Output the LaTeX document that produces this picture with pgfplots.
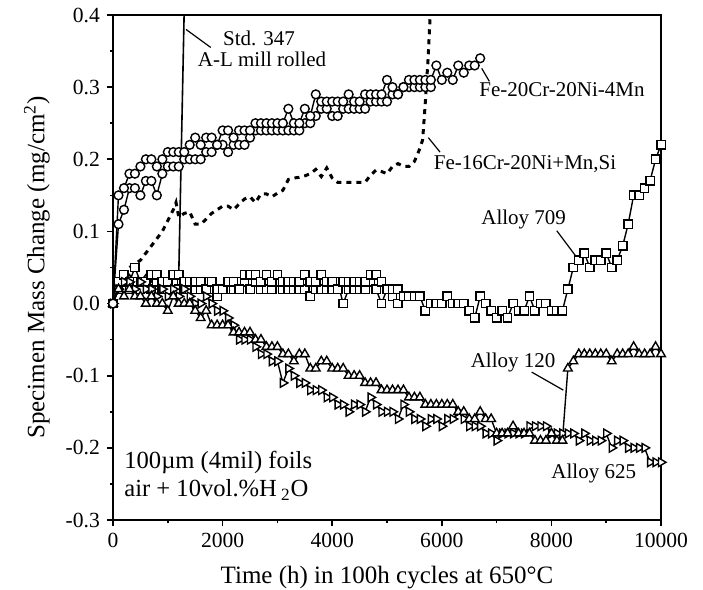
\documentclass[border=0pt]{standalone}
\usepackage{pgfplots}
\pgfplotsset{compat=1.18}
\usepackage{fontspec}
\setmainfont{Liberation Serif}
\begin{document}
\begin{tikzpicture}
\begin{axis}[
  width=274pt, height=252.5pt, scale only axis,
  xmin=0, xmax=10000, ymin=-0.3, ymax=0.4,
  xtick={0,2000,4000,6000,8000,10000}, minor x tick num=1,
  ytick={-0.3,-0.2,-0.1,0,0.1,0.2,0.3,0.4}, minor y tick num=1,
  tick pos=left, tick align=outside,
  major tick length=3pt, minor tick length=1.6pt,
  axis line style={line width=1pt},
  every tick/.append style={black, line width=0.8pt},
  scaled x ticks=false, scaled y ticks=false,
  /pgf/number format/assume math mode=true,
  xticklabel style={/pgf/number format/1000 sep={}},
  yticklabel style={/pgf/number format/.cd, fixed, fixed zerofill, precision=1},
  ticklabel style={font=\fontsize{10.8}{12.5}\selectfont},
  xlabel={Time (h) in 100h cycles at 650°C},
  ylabel={Specimen Mass Change (mg/cm\textsuperscript{2})},
  xlabel style={font=\fontsize{12.5}{15}\selectfont, at={(axis description cs:0.5,-0.113)}, anchor=center},
  ylabel style={font=\fontsize{12.5}{15}\selectfont, at={(axis description cs:-0.139,0.5)}, anchor=center, rotate=0},
  every axis plot/.append style={black, line width=0.7pt},
]
\coordinate (bbA) at (rel axis cs:-0.2062,-0.1386);
\coordinate (bbB) at (rel axis cs:1.0766,1.0297);

% Fe-16Cr-20Ni+Mn,Si (dotted thick)
\addplot[no marks, line width=1.5pt, dash pattern=on 2.5pt off 2.5pt] coordinates {
(0,0)(100,0.02)(200,0.04)(300,0.05)(400,0.055)(500,0.06)(600,0.07)(700,0.08)(800,0.09)(900,0.10)(1000,0.115)(1100,0.13)(1150,0.14)(1200,0.12)(1300,0.125)(1400,0.127)(1500,0.11)(1600,0.11)(1700,0.117)(1800,0.125)(1900,0.13)(2000,0.135)(2100,0.135)(2200,0.13)(2300,0.138)(2400,0.145)(2500,0.148)(2600,0.14)(2700,0.152)(2800,0.152)(2900,0.148)(3000,0.153)(3100,0.157)(3200,0.172)(3300,0.174)(3400,0.175)(3500,0.177)(3600,0.18)(3700,0.186)(3800,0.176)(3900,0.188)(4000,0.174)(4100,0.168)(4200,0.168)(4300,0.168)(4400,0.168)(4500,0.168)(4600,0.168)(4700,0.178)(4800,0.185)(4900,0.183)(5000,0.18)(5100,0.19)(5200,0.194)(5300,0.19)(5400,0.19)(5500,0.197)(5600,0.215)(5650,0.227)(5700,0.28)(5750,0.34)(5800,0.42)
};

% Std. 347
\addplot[no marks, line width=0.8pt] coordinates {
(0,0)(100,0.03)(200,0.03)(300,0.04)(400,0.03)(500,0.03)(600,0.04)(700,0.03)(800,0.04)(900,0.03)(1000,0.03)(1100,0.04)(1200,0.04)(1300,0.41)
};

% Alloy 709 (two specimens)
\addplot[mark=square*, mark size=2.1pt, mark options={fill=white, solid, line width=0.7pt}] coordinates {
(0,0)(100,0.02)(200,0.03)(300,0.02)(400,0.03)(500,0.02)(600,0.03)(700,0.02)(800,0.03)(900,0.02)(1000,0.02)(1100,0.03)(1200,0.02)(1300,0.02)(1400,0.02)(1500,0.02)(1600,0.02)(1700,0.03)(1800,0.02)(1900,0.01)(2000,0.02)(2100,0.02)(2200,0.02)(2300,0.03)(2400,0.03)(2500,0.02)(2600,0.03)(2700,0.02)(2800,0.02)(2900,0.02)(3000,0.03)(3100,0.02)(3200,0.02)(3300,0.02)(3400,0.02)(3500,0.02)(3600,0.01)(3700,0.02)(3800,0.02)(3900,0.02)(4000,0.02)(4100,0.03)(4200,0.00)(4300,0.02)(4400,0.02)(4500,0.02)(4600,0.02)(4700,0.03)(4800,0.02)(4900,0.00)(5000,0.02)(5100,0.01)(5200,0.00)(5300,0.01)(5400,0.01)(5500,0.01)
};
\addplot[mark=square*, mark size=2.1pt, mark options={fill=white, solid, line width=0.7pt}] coordinates {
(0,0)(100,0.03)(200,0.04)(300,0.03)(400,0.05)(500,0.03)(600,0.03)(700,0.04)(800,0.04)(900,0.03)(1000,0.03)(1100,0.04)(1200,0.04)(1300,0.03)(1400,0.03)(1500,0.03)(1600,0.03)(1700,0.02)(1800,0.03)(1900,0.02)(2000,0.02)(2100,0.03)(2200,0.03)(2300,0.02)(2400,0.04)(2500,0.04)(2600,0.04)(2700,0.03)(2800,0.04)(2900,0.03)(3000,0.04)(3100,0.03)(3200,0.03)(3300,0.03)(3400,0.03)(3500,0.04)(3600,0.03)(3700,0.03)(3800,0.04)(3900,0.03)(4000,0.03)(4100,0.02)(4200,0.03)(4300,0.03)(4400,0.03)(4500,0.03)(4600,0.03)(4700,0.04)(4800,0.04)(4900,0.03)(5000,0.02)(5100,0.02)(5200,0.02)(5300,0.01)(5400,0.01)(5500,0.01)(5600,0.01)(5700,-0.01)(5800,0.00)(5900,0.00)(6000,0.00)(6100,0.01)(6200,0.00)(6300,0.00)(6400,0.00)(6500,-0.01)(6600,-0.02)(6700,0.01)(6800,0.00)(6900,-0.01)(7000,-0.02)(7100,-0.01)(7200,-0.02)(7300,0.00)(7400,-0.01)(7500,-0.01)(7600,0.01)(7700,-0.01)(7800,0.00)(7900,0.00)(8000,-0.01)(8100,-0.01)(8200,-0.01)(8300,0.02)(8400,0.05)(8500,0.06)(8600,0.07)(8700,0.05)(8800,0.06)(8900,0.06)(9000,0.07)(9100,0.05)(9200,0.06)(9300,0.08)(9400,0.11)(9500,0.15)(9600,0.15)(9700,0.16)(9800,0.17)(9900,0.20)(10000,0.22)
};

% Alloy 625 (right triangles)
\addplot[mark=triangle*, mark size=2.5pt, mark options={fill=white, solid, rotate=-90, line width=0.7pt}] coordinates {
(0,0)(100,0.02)(200,0.03)(300,0.03)(400,0.02)(500,0.03)(600,0.02)(700,0.02)(800,0.01)(900,0.02)(1000,0.01)(1100,0.02)(1200,0.01)(1300,0.02)(1400,0.01)(1500,0.00)(1600,0.00)(1700,0.01)(1800,0.00)(1900,-0.01)(2000,-0.01)(2100,-0.02)(2200,-0.03)(2300,-0.05)(2400,-0.05)(2500,-0.05)(2600,-0.06)(2700,-0.07)(2800,-0.07)(2900,-0.08)(3000,-0.08)(3100,-0.11)(3200,-0.09)(3300,-0.10)(3400,-0.11)(3500,-0.11)(3600,-0.12)(3700,-0.12)(3800,-0.12)(3900,-0.13)(4000,-0.13)(4100,-0.14)(4200,-0.14)(4300,-0.15)(4400,-0.14)(4500,-0.14)(4600,-0.15)(4700,-0.13)(4800,-0.14)(4900,-0.15)(5000,-0.15)(5100,-0.15)(5200,-0.16)(5300,-0.14)(5400,-0.15)(5500,-0.16)(5600,-0.16)(5700,-0.17)(5800,-0.16)(5900,-0.16)(6000,-0.17)(6100,-0.16)(6200,-0.16)(6300,-0.15)(6400,-0.16)(6500,-0.17)(6600,-0.17)(6700,-0.17)(6800,-0.18)(6900,-0.18)(7000,-0.19)(7100,-0.18)(7200,-0.18)(7300,-0.18)(7400,-0.18)(7500,-0.18)(7600,-0.17)(7700,-0.17)(7800,-0.17)(7900,-0.17)(8000,-0.18)(8100,-0.18)(8200,-0.18)(8300,-0.18)(8400,-0.18)(8500,-0.19)(8600,-0.18)(8700,-0.19)(8800,-0.19)(8900,-0.19)(9000,-0.18)(9100,-0.20)(9200,-0.19)(9300,-0.19)(9400,-0.20)(9500,-0.20)(9600,-0.20)(9700,-0.20)(9800,-0.22)(9900,-0.22)(10000,-0.22)
};

% Alloy 120 (up triangles)
\addplot[mark=triangle*, mark size=2.5pt, mark options={fill=white, solid, line width=0.7pt}] coordinates {
(0,0)(100,0.02)(200,0.01)(300,0.02)(400,0.01)(500,0.01)(600,0.00)(700,0.01)(800,0.00)(900,0.00)(1000,-0.01)(1100,0.01)(1200,0.00)(1300,0.00)(1400,0.00)(1500,-0.01)(1600,-0.02)(1700,-0.01)(1800,-0.03)(1900,-0.03)(2000,-0.03)(2100,-0.03)(2200,-0.04)(2300,-0.04)(2400,-0.04)(2500,-0.04)(2600,-0.05)(2700,-0.05)(2800,-0.06)(2900,-0.06)(3000,-0.06)(3100,-0.07)(3200,-0.07)(3300,-0.08)(3400,-0.07)(3500,-0.07)(3600,-0.09)(3700,-0.09)(3800,-0.08)(3900,-0.08)(4000,-0.09)(4100,-0.09)(4200,-0.09)(4300,-0.10)(4400,-0.10)(4500,-0.10)(4600,-0.11)(4700,-0.11)(4800,-0.11)(4900,-0.12)(5000,-0.12)(5100,-0.12)(5200,-0.12)(5300,-0.12)(5400,-0.13)(5500,-0.13)(5600,-0.13)(5700,-0.14)(5800,-0.14)(5900,-0.14)(6000,-0.14)(6100,-0.14)(6200,-0.14)(6300,-0.15)(6400,-0.15)(6500,-0.16)(6600,-0.16)(6700,-0.15)(6800,-0.16)(6900,-0.16)(7000,-0.18)(7100,-0.18)(7200,-0.18)(7300,-0.17)(7400,-0.18)(7500,-0.18)(7600,-0.18)(7700,-0.19)(7800,-0.19)(7900,-0.19)(8000,-0.18)(8100,-0.19)(8200,-0.19)(8300,-0.09)(8400,-0.08)(8500,-0.07)(8600,-0.07)(8700,-0.07)(8800,-0.07)(8900,-0.07)(9000,-0.07)(9100,-0.08)(9200,-0.07)(9300,-0.07)(9400,-0.07)(9500,-0.06)(9600,-0.07)(9700,-0.07)(9800,-0.07)(9900,-0.06)(10000,-0.07)
};

% Fe-20Cr-20Ni-4Mn (circles, two specimens)
\addplot[mark=*, mark size=2.2pt, mark options={fill=white, solid, line width=0.7pt}] coordinates {
(0,0)(100,0.11)(200,0.13)(300,0.16)(400,0.16)(500,0.15)(600,0.17)(700,0.17)(800,0.15)(900,0.18)(1000,0.19)(1100,0.19)(1200,0.19)(1300,0.20)(1400,0.20)(1500,0.20)(1600,0.20)(1700,0.21)(1800,0.21)(1900,0.22)(2000,0.22)(2100,0.21)(2200,0.22)(2300,0.22)(2400,0.22)(2500,0.23)(2600,0.24)(2700,0.24)(2800,0.24)(2900,0.24)(3000,0.24)(3100,0.24)(3200,0.24)(3300,0.24)(3400,0.24)(3500,0.25)(3600,0.25)(3700,0.26)(3800,0.27)(3900,0.27)(4000,0.26)(4100,0.26)(4200,0.27)(4300,0.27)(4400,0.27)(4500,0.27)(4600,0.27)(4700,0.28)(4800,0.28)(4900,0.28)(5000,0.28)(5100,0.29)(5200,0.29)(5300,0.30)(5400,0.30)(5500,0.30)(5600,0.30)(5700,0.30)(5800,0.30)
};
\addplot[mark=*, mark size=2.2pt, mark options={fill=white, solid, line width=0.7pt}] coordinates {
(0,0)(100,0.15)(200,0.16)(300,0.18)(400,0.18)(500,0.19)(600,0.20)(700,0.20)(800,0.19)(900,0.20)(1000,0.21)(1100,0.21)(1200,0.21)(1300,0.21)(1400,0.22)(1500,0.23)(1600,0.22)(1700,0.23)(1800,0.23)(1900,0.22)(2000,0.24)(2100,0.24)(2200,0.23)(2300,0.24)(2400,0.24)(2500,0.24)(2600,0.25)(2700,0.25)(2800,0.25)(2900,0.25)(3000,0.25)(3100,0.25)(3200,0.27)(3300,0.25)(3400,0.25)(3500,0.27)(3600,0.26)(3700,0.29)(3800,0.28)(3900,0.28)(4000,0.28)(4100,0.28)(4200,0.28)(4300,0.29)(4400,0.28)(4500,0.28)(4600,0.29)(4700,0.29)(4800,0.29)(4900,0.29)(5000,0.31)(5100,0.30)(5200,0.29)(5300,0.30)(5400,0.31)(5500,0.31)(5600,0.31)(5700,0.31)(5800,0.31)(5900,0.33)(6000,0.31)(6100,0.32)(6200,0.31)(6300,0.33)(6400,0.32)(6500,0.33)(6600,0.33)(6700,0.34)
};

% annotations
\begin{scope}[every node/.style={font=\fontsize{10.5}{12}\selectfont, inner sep=0pt}]
\node at (axis cs:2664,0.368) {Std. 347};
\node at (axis cs:2719,0.338) {A-L mill rolled};
\draw[line width=0.6pt] (axis cs:1332,0.380) -- (axis cs:1783,0.355);
\node at (axis cs:8193,0.296) {Fe-20Cr-20Ni-4Mn};
\draw[line width=0.6pt] (axis cs:6728,0.326) -- (axis cs:6867,0.308);
\node at (axis cs:7518,0.193) {Fe-16Cr-20Ni+Mn,Si};
\draw[line width=0.6pt] (axis cs:5754,0.230) -- (axis cs:5967,0.210);
\node at (axis cs:7494,0.117) {Alloy 709};
\draw[line width=0.6pt] (axis cs:8097,0.101) -- (axis cs:8443,0.066);
\node at (axis cs:7300,-0.082) {Alloy 120};
\draw[line width=0.6pt] (axis cs:7640,-0.095) -- (axis cs:8217,-0.120);
\node at (axis cs:8772,-0.235) {Alloy 625};
\end{scope}
\node[anchor=west, inner sep=0pt, font=\fontsize{12.3}{14}\selectfont] at (axis cs:200,-0.220) {100µm (4mil) foils};
\node[anchor=west, inner sep=0pt, font=\fontsize{12.3}{14}\selectfont] at (axis cs:200,-0.258) {air + 10vol.\%H\,\textsubscript{2}O};
\end{axis}
\pgfresetboundingbox
\path (bbA) rectangle (bbB);
\end{tikzpicture}
\end{document}
